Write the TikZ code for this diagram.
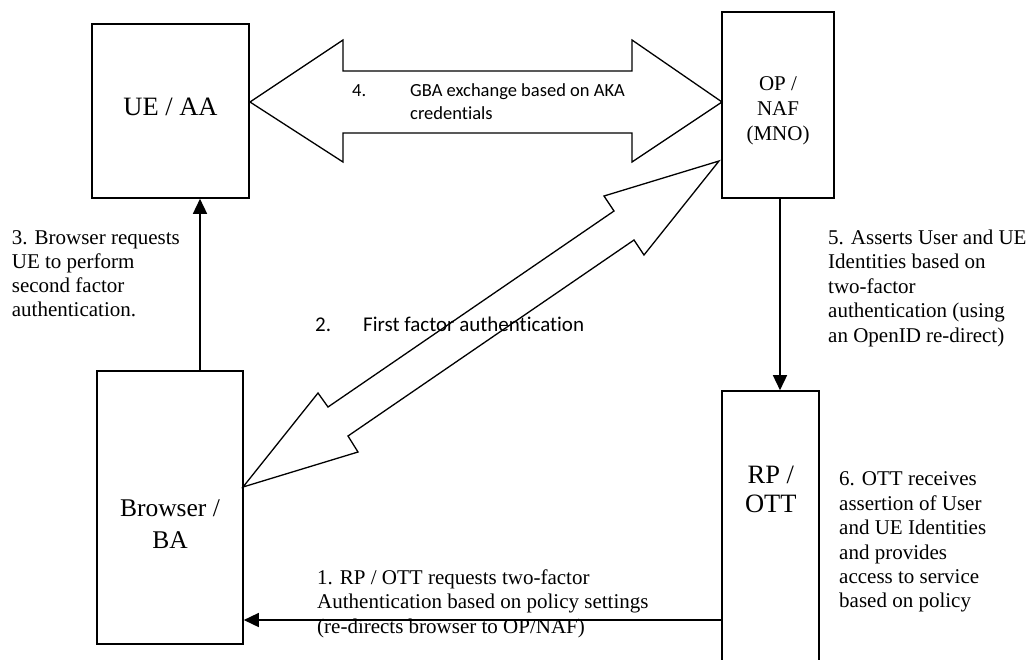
\documentclass[tikz,border=0pt]{standalone}
\usepackage{fontspec}
\setmainfont{Liberation Serif}
\newfontfamily\calib[Ligatures=NoCommon]{Carlito}
\usetikzlibrary{arrows.meta}
\begin{document}
\begin{tikzpicture}[x=1pt,y=-1pt,
  box/.style={draw, line width=1.6pt, rectangle, inner sep=0pt},
  boxtext/.style={font=\fontsize{26.5}{31}\selectfont, align=center, inner sep=0pt},
  lbl/.style={font=\fontsize{21}{24.4}\selectfont, align=left, inner sep=0pt, anchor=north west},
  conn/.style={line width=1.5pt, -{Triangle[length=15pt,width=14pt]}},
  blockarrow/.style={draw, line width=1.3pt, line join=miter, fill=white}]
\useasboundingbox (0,0) rectangle (1032,659);
\fill[white] (0,0) rectangle (1032,659);
% boxes
\node[box, minimum width=157pt, minimum height=174pt] (ue) at (170.5,111) {};
\node[box, minimum width=112pt, minimum height=186pt] (op) at (778,105) {};
\node[box, minimum width=146pt, minimum height=273pt] (br) at (170,507.5) {};
\node[box, minimum width=97pt, minimum height=309pt] (rp) at (770.5,545.5) {};
% block arrows
\draw[blockarrow] (250,102) -- (343,40) -- (343,71) -- (632,71) -- (632,40) -- (722,102)
  -- (632,162) -- (632,133) -- (343,133) -- (343,162) -- cycle;
\draw[blockarrow] (243,487) -- (358,452) -- (348,436) -- (634,240) -- (644,255) -- (719,161)
  -- (604,196) -- (614,211) -- (328,407) -- (318,393) -- cycle;
% connectors
\coordinate (a3) at (200,0);
\draw[conn] (br.north -| a3) -- (ue.south -| a3);
\coordinate (a5) at (780,0);
\draw[conn] (op.south -| a5) -- (rp.north -| a5);
\coordinate (a1) at (0,620);
\draw[conn] (rp.west |- a1) -- (br.east |- a1);
% box texts
\node[boxtext, anchor=base] (uet) at (170.5,115) {UE / AA};
\node[boxtext, font=\fontsize{21}{25}\selectfont, anchor=north] (opt) at (778,76) {OP /\\NAF\\(MNO)};
\node[boxtext, font=\fontsize{26.5}{28.4}\selectfont, anchor=north] (rpt) at (770.8,466) {RP /\\OTT};
\node[boxtext, font=\fontsize{25.5}{32}\selectfont, anchor=north] (brt) at (170,499) {Browser /\\BA};
% labels
\node[lbl, font=\fontsize{21}{24}\selectfont] (l3) at (11.7,230.8) {3. Browser requests\\UE to perform\\second factor\\authentication.};
\node[lbl] (l5) at (828,229.7) {5. Asserts User and UE\\Identities based on\\two-factor\\authentication (using\\an OpenID re-direct)};
\node[lbl] (l6) at (839,471.8) {6. OTT receives\\assertion of User\\and UE Identities\\and provides\\access to service\\based on policy};
\node[lbl] (l1) at (317,569.4) {1. RP / OTT requests two-factor\\Authentication based on policy settings\\(re-directs browser to OP/NAF)};
\node[lbl, font=\calib\fontsize{18.5}{22.6}\selectfont] (l4) at (352,83.5) {\makebox[58pt][l]{4.}GBA exchange based on AKA\\\hspace*{58pt}credentials};
\node[anchor=base west, inner sep=0pt, font=\calib\fontsize{21}{24}\selectfont] (l2) at (315,331.7) {\makebox[48pt][l]{2.}First factor authentication};
\end{tikzpicture}
\end{document}
